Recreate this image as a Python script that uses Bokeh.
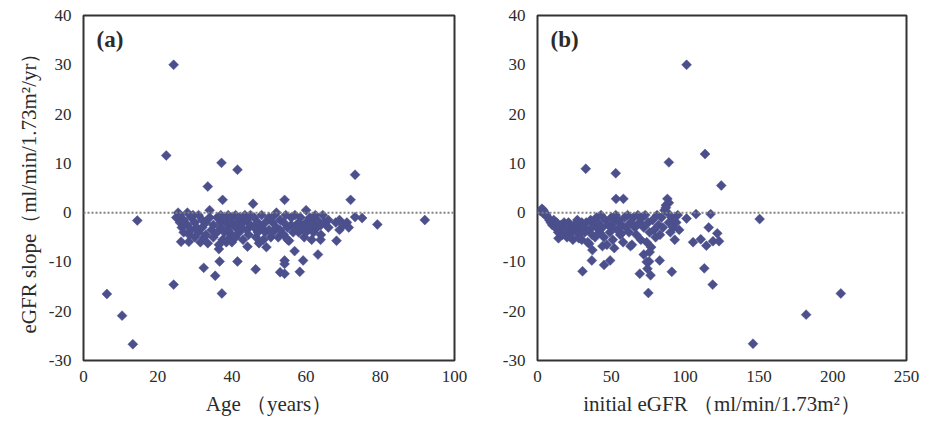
import numpy as np
from bokeh.plotting import figure
from bokeh.layouts import row
from bokeh.models import Range1d, FixedTicker, Span, Label, PrintfTickFormatter
from bokeh.embed import file_html
from bokeh.resources import INLINE

# ---------------- data: panel (a) Age vs eGFR slope ----------------
age_a = [
    24.3, 22.3, 37.2, 41.5, 33.5, 73.2, 72.0, 54.2, 37.5, 45.7, 14.5, 92.0, 79.2, 75.1, 73.2,
    6.3, 10.4, 13.3, 24.3, 37.3, 32.4, 35.5, 36.7, 41.5, 46.4, 53.0, 54.2, 54.2, 54.2, 58.3,
    59.2, 56.9, 63.2, 55.4, 68.2, 63.9, 47.3, 49.3, 44.2, 36.5, 26.3, 28.4,
    25, 25.5, 26, 26, 26.5, 27, 27, 28, 28, 28.5, 29, 29, 29.5, 30, 30, 30.5,
    31, 31, 31.5, 32, 32, 32.5, 33, 33, 33.5, 34, 34, 34.5, 35, 35,
    36, 36, 36.5, 37, 37, 37, 37.5, 38, 38, 38.5, 39, 39, 39, 39.5, 40, 40, 40, 40,
    41, 41, 41, 41.5, 42, 42, 42.5, 43, 43, 43.5, 44, 44, 44.5, 45, 45,
    46, 46, 46.5, 47, 47, 48, 48, 48.5, 49, 49, 50, 50, 50.5,
    51, 51, 51.5, 52, 52, 52.5, 53, 53, 54, 54, 54.5, 55, 55,
    56, 56, 56.5, 57, 57, 58, 58, 58.5, 59, 59.5, 60, 60, 60,
    61, 61, 61.5, 62, 62, 62.5, 63, 63, 64, 64, 64.5, 65, 66, 66,
    68, 69, 69, 70, 71, 71.5,
]
slope_a = [
    30.0, 11.6, 10.1, 8.7, 5.3, 7.7, 2.6, 2.6, 2.6, 1.8, -1.6, -1.5, -2.4, -1.1, -0.9,
    -16.5, -20.9, -26.7, -14.6, -16.4, -11.2, -12.8, -9.9, -9.9, -11.5, -12.1, -12.4, -9.7, -10.4, -12.0,
    -9.7, -7.8, -8.5, -5.7, -5.7, -5.5, -6.2, -7.0, -6.9, -7.4, -5.9, -5.9,
    -1, 0, -0.5, -2, -3, -1.5, -4, 0, -2.5, -4.5, -1, -3.5, -0.5, -2, -5, -3,
    -0.5, -4, -6, -1.5, -3, -5, -2, -4.5, -6.2, -1, 0.5, -3.5, -2.5, -5,
    -1, -4, -6.5, -0.5, -2, -3, -5.5, -1.5, -4, -6, -0.5, -2.5, -3.5, -5, -1, -2, -4.5, -6,
    -0.5, -3, -5, -2, -1, -4, -3, -2, -5.5, -0.5, -3.5, -1.5, -4.5, -2.5, -0.5,
    -3, -1, -5, -2, -4, -0.5, -3, -5.5, -2, -4, -1, -3.5, -5,
    -2, -4, -0.5, -3, 0, -5, -1.5, -3.5, -2, -4.5, -0.5, -3, -5.5,
    -1, -2.5, -4, -0.5, -3, -2, -4, -1, -3, -5, -2, 0.5, -4,
    -1, -3, -5.5, -2, -4, -0.5, -3, -1.5, -2.5, -4.5, -0.5, -2, -1.5, -3,
    -2, -1.5, -3.5, -2.5, -2, -3,
]

# ---------------- data: panel (b) initial eGFR vs eGFR slope ----------------
egfr_b = [
    101, 113.5, 89, 32.7, 53, 124.5, 53.2, 58.2, 88, 150.5, 146, 182, 205.5,
    118.7, 113, 91, 69.3, 75.1, 76.6, 74.5, 82.8, 75.6, 30.5, 36.8, 45.1, 49.2, 37.2,
    107.4, 117.3, 101, 116, 121.8, 105.4, 110.6, 114.4, 118.9, 123, 14.2,
    2, 3, 4, 4, 5, 6, 7, 8, 9, 10,
    11, 12, 13, 14, 15, 16, 17, 18, 19, 20,
    21, 22, 23, 24, 25, 26, 27, 28, 29, 30, 30,
    31, 32, 33, 34, 35, 36, 37, 38, 39, 40, 40,
    41, 42, 43, 44, 45, 46, 47, 48, 49, 50, 50,
    51, 52, 53, 54, 55, 56, 57, 58, 59, 60,
    61, 62, 63, 64, 65, 66, 67, 68, 69, 70,
    71, 72, 73, 74, 75, 76, 77, 78, 79, 80,
    81, 82, 83, 84, 85, 86, 87, 88, 89, 90, 91, 92, 93, 94, 95,
    96, 89, 87, 72, 76, 74, 22, 28, 35, 44, 52, 57, 63,
]
slope_b = [
    30.0, 11.9, 10.2, 8.9, 8.0, 5.5, 2.8, 2.8, 2.8, -1.3, -26.6, -20.7, -16.4,
    -14.6, -11.3, -12.0, -12.4, -16.3, -12.7, -11.4, -9.7, -9.9, -11.9, -9.7, -10.6, -9.7, -7.6,
    -0.3, -0.3, -1.2, -3.0, -4.2, -6.0, -5.4, -6.7, -5.8, -5.8, -5.2,
    0.3, 0.8, 0.5, -0.2, 0, -0.5, -1, -1.5, -2, -2.5,
    -1.5, -3, -2, -4, -3, -2.5, -4.5, -2, -3.5, -5,
    -2, -3, -4, -5.5, -2.5, -3.5, -1.5, -4.5, -3, -2, -5.5,
    -3, -4, -2, -6, -3.5, -1.5, -4.5, -2.5, -5, -3, -1,
    -2, -4, -0.5, -3, -5, -1.5, -6.5, -2.5, -4, -1, -3,
    -5.5, -2, -0.5, -3.5, -1.5, -4.5, -2.5, -6, -1, -3,
    -0.5, -4, -2, -6.5, -1, -3, -4.5, -0.5, -2, -5.5,
    -1, -3, -0.5, -6, -2, -4, -7, -1.5, -3.5, -5,
    -0.5, -2.5, -4.5, -1, -3, 0.5, 1.5, 0, -2, -4, -1, -3, -5.5, -2, -0.5,
    -3.5, 2.0, 1.0, -8.5, -8.0, -10.0, -4.8, -5.2, -6.3, -6.8, -7.2, -4.2, -6.8,
]

y_ticks = [-30, -20, -10, 0, 10, 20, 30, 40]
x_ticks_a = [0, 20, 40, 60, 80, 100]
x_ticks_b = [0, 50, 100, 150, 200, 250]

MARK = "#4b4f8c"
TXT = "#2b2b2b"
SERIF = "Liberation Serif"


def make_panel(xs, ys, xmax, xticks, xlabel, ylabel, tag, fw, left, right):
    p = figure(frame_width=fw, frame_height=345, output_backend="svg", toolbar_location=None,
               x_range=Range1d(0, xmax), y_range=Range1d(-30, 40),
               min_border_left=left, min_border_right=right,
               min_border_top=15, min_border_bottom=4)
    p.background_fill_color = "white"
    p.border_fill_color = "white"
    p.outline_line_color = "#333333"
    p.outline_line_width = 2
    p.xgrid.visible = False
    p.ygrid.visible = False
    p.xaxis.ticker = FixedTicker(ticks=xticks)
    p.yaxis.ticker = FixedTicker(ticks=y_ticks)
    p.yaxis.formatter = PrintfTickFormatter(format="%d")
    for ax in (p.xaxis, p.yaxis):
        ax.axis_line_color = None
        ax.major_tick_line_color = None
        ax.minor_tick_line_color = None
        ax.major_label_text_font = SERIF
        ax.major_label_text_font_size = "17px"
        ax.major_label_text_color = TXT
        ax.axis_label_text_font = SERIF
        ax.axis_label_text_font_size = "21px"
        ax.axis_label_text_font_style = "normal"
        ax.axis_label_text_color = TXT
    p.xaxis.major_label_standoff = 4
    p.yaxis.major_label_standoff = 6
    p.xaxis.axis_label = xlabel
    p.xaxis.axis_label_standoff = 7
    if ylabel:
        p.yaxis.axis_label = ylabel
        p.yaxis.axis_label_standoff = 5
    p.add_layout(Span(location=0, dimension="width", line_color="#808080",
                      line_width=2, line_dash="2 2"))
    p.scatter(xs, ys, marker="square", angle=np.pi / 4, size=7,
              fill_color=MARK, line_color=MARK, line_width=0.5)
    p.add_layout(Label(x=13, y=309, x_units="screen", y_units="screen", text=tag,
                       text_font=SERIF, text_font_size="23px", text_font_style="bold",
                       text_color=TXT))
    return p


pa = make_panel(age_a, slope_a, 100, x_ticks_a, "Age （years）",
                "eGFR slope（ml/min/1.73m²/yr）", "(a)", 371, 83, 16)
pb = make_panel(egfr_b, slope_b, 250, x_ticks_b, "initial eGFR （ml/min/1.73m²）",
                None, "(b)", 369, 67, 20)

layout = row(pa, pb)
open("out.html", "w").write(file_html(layout, INLINE))
